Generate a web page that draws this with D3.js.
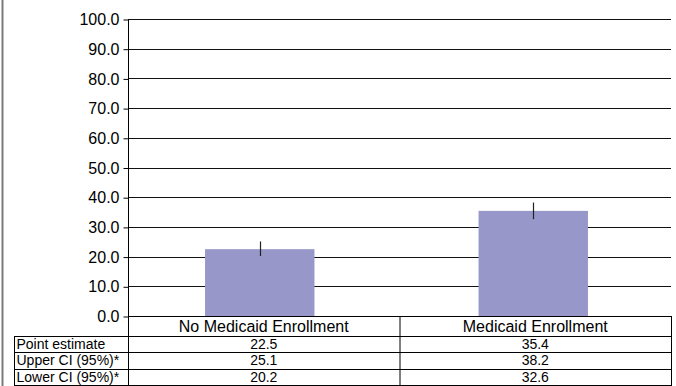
<!DOCTYPE html>
<html>
<head>
<meta charset="utf-8">
<script src="https://cdn.jsdelivr.net/npm/d3@7"></script>
<style>
  html, body { margin: 0; padding: 0; background: #fff; }
  svg { display: block; font-family: Arial, "Liberation Sans", sans-serif; }
</style>
</head>
<body>
<svg id="chart" width="676" height="386"></svg>
<script>
// Chart data
const categories = ["No Medicaid Enrollment", "Medicaid Enrollment"];
const pointEstimate = [22.5, 35.4];
const upperCI = [25.1, 38.2];
const lowerCI = [20.2, 32.6];
const rowLabels = ["Point estimate", "Upper CI (95%)*", "Lower CI (95%)*"];
const yTicks = [0, 10, 20, 30, 40, 50, 60, 70, 80, 90, 100];

const svg = d3.select("#chart");
const W = 676, H = 386;
const plotL = 128, plotR = 671, plotT = 19, zeroY = 316;
const tableLeft = 14, headerBottom = 336, rowH = 16.4;

// Outer frame line on the left
svg.append("line")
  .attr("x1", 2.5).attr("x2", 2.5).attr("y1", 0).attr("y2", H)
  .attr("stroke", "#7a7a7a").attr("stroke-width", 2);

const y = d3.scaleLinear().domain([0, 100]).range([zeroY, plotT]);
const xTable = d3.scaleBand().domain(categories).range([plotL, plotR]);
const xBars = d3.scaleBand().domain(categories).range([plotL - 5, plotR - 1]);
const barW = xBars.bandwidth() * 0.4;

// Gridlines
svg.append("g").selectAll("line").data(yTicks).join("line")
  .attr("x1", plotL).attr("x2", plotR)
  .attr("y1", d => Math.round(y(d)) + 0.5).attr("y2", d => Math.round(y(d)) + 0.5)
  .attr("stroke", "#111").attr("stroke-width", 1.2);

// Y axis
const yAxis = d3.axisLeft(y).tickValues(yTicks).tickFormat(d3.format(".1f")).tickSize(5).tickPadding(4);
const ga = svg.append("g").attr("transform", `translate(${plotL + 0.5},0.5)`).call(yAxis);
ga.select(".domain").remove();
ga.selectAll(".tick line").attr("stroke", "#000");
ga.selectAll(".tick text").attr("font-size", 16).attr("fill", "#000")
  .attr("font-family", "Arial, 'Liberation Sans', sans-serif");
svg.append("line")
  .attr("x1", plotL + 0.5).attr("x2", plotL + 0.5).attr("y1", plotT).attr("y2", H)
  .attr("stroke", "#000");

// Bars
svg.append("g").selectAll("rect").data(categories).join("rect")
  .attr("x", d => xBars(d) + (xBars.bandwidth() - barW) / 2)
  .attr("width", barW)
  .attr("y", (d, i) => y(pointEstimate[i]))
  .attr("height", (d, i) => zeroY - y(pointEstimate[i]))
  .attr("fill", "#9797c9");

// Confidence interval lines
svg.append("g").selectAll("line").data(categories).join("line")
  .attr("x1", d => Math.round(xBars(d) + xBars.bandwidth() / 2) + 0.5)
  .attr("x2", d => Math.round(xBars(d) + xBars.bandwidth() / 2) + 0.5)
  .attr("y1", (d, i) => y(upperCI[i]))
  .attr("y2", (d, i) => y(lowerCI[i]))
  .attr("stroke", "#222").attr("stroke-width", 1.2);

// Data table under the plot
const table = svg.append("g").attr("font-size", 14).attr("fill", "#000");
const rowValues = [pointEstimate, upperCI, lowerCI];
const rowTop = i => headerBottom + i * rowH;

// Header cells with category names
table.selectAll("text.head").data(categories).join("text")
  .attr("class", "head")
  .attr("x", d => xTable(d) + xTable.bandwidth() / 2)
  .attr("y", 332)
  .attr("text-anchor", "middle")
  .attr("font-size", 16)
  .text(d => d);

// Row labels and values
rowLabels.forEach((lab, i) => {
  table.append("text")
    .attr("x", tableLeft + 2.5).attr("y", rowTop(i) + 13)
    .text(lab);
  table.append("g").selectAll("text").data(categories).join("text")
    .attr("x", d => xTable(d) + xTable.bandwidth() / 2)
    .attr("y", rowTop(i) + 13)
    .attr("text-anchor", "middle")
    .text((d, j) => rowValues[i][j].toFixed(1));
});

// Table borders
const lines = table.append("g").attr("stroke", "#000").attr("stroke-width", 1);
[zeroY, headerBottom].forEach(v => {
  lines.append("line").attr("x1", plotL).attr("x2", plotR + 0.5)
    .attr("y1", v + 0.5).attr("y2", v + 0.5);
});
[0, 1, 2, 3].forEach(i => {
  const v = Math.min(Math.round(rowTop(i)), H - 1) + 0.5;
  lines.append("line").attr("x1", tableLeft).attr("x2", plotR + 0.5)
    .attr("y1", v).attr("y2", v);
});
lines.append("line").attr("x1", tableLeft + 0.5).attr("x2", tableLeft + 0.5)
  .attr("y1", headerBottom).attr("y2", H);
lines.append("line").attr("x1", plotR + 0.5).attr("x2", plotR + 0.5)
  .attr("y1", zeroY).attr("y2", H);
lines.append("line").attr("x1", xTable(categories[1]) + 0.5).attr("x2", xTable(categories[1]) + 0.5)
  .attr("y1", zeroY).attr("y2", H);
</script>
</body>
</html>
